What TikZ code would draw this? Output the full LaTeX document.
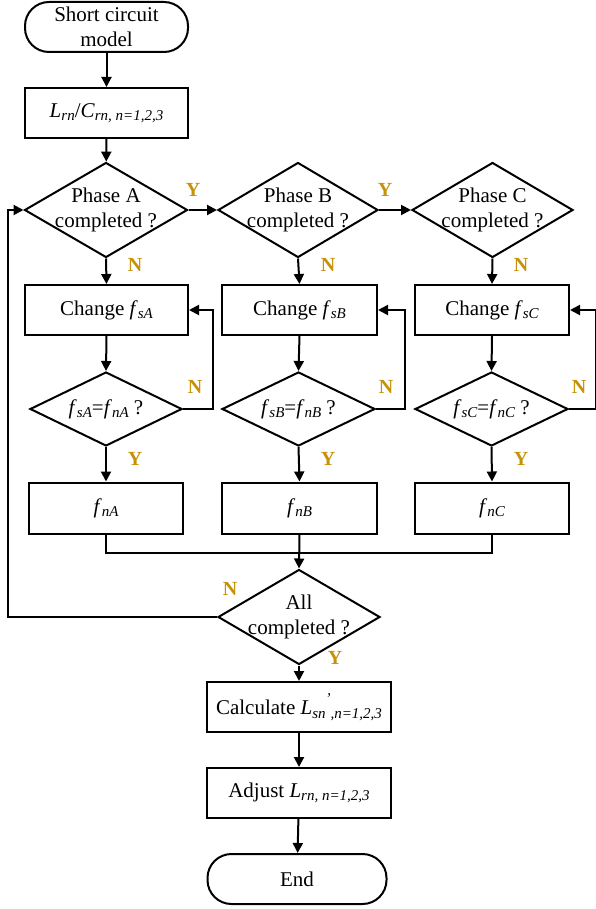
\documentclass[tikz,border=0pt]{standalone}
\usepackage{fontspec}
\setmainfont{Liberation Serif}
\usetikzlibrary{shapes.geometric,arrows.meta}
\definecolor{gold}{RGB}{198,146,10}
\newcommand{\vi}[1]{\textit{#1}}
\newcommand{\sbs}[1]{\raisebox{-0.35ex}{\fontsize{15}{15}\selectfont\itshape #1}}
\begin{document}
\begin{tikzpicture}[x=1pt,y=-1pt,line width=2pt,
  txt/.style={font=\fontsize{21}{25}\selectfont},
  proc/.style={draw,rectangle,inner sep=0pt,minimum height=50pt,txt},
  term/.style={draw,rectangle,rounded corners=24pt,inner sep=0pt,minimum height=50pt,align=center,txt},
  dec/.style={draw,diamond,inner sep=0pt,label={[txt,align=center]center:#1}},
  yn/.style={font=\fontsize{20}{20}\selectfont\bfseries,text=gold},
  arr/.style={-{Triangle[length=10pt,width=10pt]}}]
\useasboundingbox (0,0) rectangle (596,909);

\node[term,minimum width=163pt] (start) at (106.5,27) {Short circuit\\model};
\node[proc,minimum width=163pt] (lc) at (106.5,113) {\vi{L}\sbs{rn}/\vi{C}\sbs{rn, n=1,2,3}};

\node[dec={Phase A\\completed ?},minimum width=163pt,minimum height=95pt] (dA) at (106,210) {};
\node[dec={Phase B\\completed ?},minimum width=160pt,minimum height=95pt] (dB) at (298,210) {};
\node[dec={Phase C\\completed ?},minimum width=161pt,minimum height=95pt] (dC) at (492.5,210) {};

\node[proc,minimum width=163pt] (cA) at (106.5,310) {Change \vi{f}\sbs{sA}};
\node[proc,minimum width=155pt] (cB) at (299.5,310) {Change \vi{f}\sbs{sB}};
\node[proc,minimum width=154pt] (cC) at (492,310) {Change \vi{f}\sbs{sC}};

\node[dec={\vi{f}\sbs{sA}=\vi{f}\sbs{nA} ?},minimum width=152pt,minimum height=74pt] (sA) at (106,409) {};
\node[dec={\vi{f}\sbs{sB}=\vi{f}\sbs{nB} ?},minimum width=153pt,minimum height=74pt] (sB) at (298.5,409) {};
\node[dec={\vi{f}\sbs{sC}=\vi{f}\sbs{nC} ?},minimum width=153pt,minimum height=74pt] (sC) at (491.5,409) {};

\node[proc,minimum width=154pt,minimum height=51pt] (fA) at (106,508) {\vi{f}\sbs{nA}};
\node[proc,minimum width=155pt,minimum height=51pt] (fB) at (299.5,508) {\vi{f}\sbs{nB}};
\node[proc,minimum width=154pt,minimum height=51pt] (fC) at (492,508) {\vi{f}\sbs{nC}};

\node[dec={All\\completed ?},minimum width=162pt,minimum height=95pt] (all) at (299,617) {};
\node[proc,minimum width=184pt] (calc) at (299,707) {Calculate \vi{L}\sbs{sn}\raisebox{1.2ex}{\fontsize{15}{15}\selectfont\itshape '}\sbs{,n=1,2,3}};
\node[proc,minimum width=184pt] (adj) at (299,793) {Adjust \vi{L}\sbs{rn, n=1,2,3}};
\node[term,minimum width=179pt] (end) at (297,879) {End};

\coordinate (lp) at (8,617);

\draw[arr] (start) -- (lc);
\draw[arr] (lc) -- (dA);
\draw[arr] (dA.east) -- (dB.west);
\draw[arr] (dB.east) -- (dC.west);
\draw[arr] (dA.south) -- (cA.north);
\draw[arr] (dB.south) -- (cB.north);
\draw[arr] (dC.south) -- (cC.north);
\draw[arr] (cA.south) -- (sA.north);
\draw[arr] (cB.south) -- (sB.north);
\draw[arr] (cC.south) -- (sC.north);
\draw[arr] (sA.south) -- (fA.north);
\draw[arr] (sB.south) -- (fB.north);
\draw[arr] (sC.south) -- (fC.north);
\draw[arr] (sA.east) -- ++(30,0) |- (cA.east);
\draw[arr] (sB.east) -- ++(29,0) |- (cB.east);
\draw[arr] (sC.east) -- ++(27,0) |- (cC.east);
\draw (fA.south) -- ++(0,18) -| (fC.south);
\draw[arr] (fB.south) -- (all.north);
\draw[arr] (all.west) -- (lp) |- (dA.west);
\draw[arr] (all.south) -- (calc.north);
\draw[arr] (calc) -- (adj);
\draw[arr] (adj) -- (end);

\node[yn] (y1) at (193,190) {Y};
\node[yn] (y2) at (385,190) {Y};
\node[yn] (n1) at (135,265) {N};
\node[yn] (n2) at (328,265) {N};
\node[yn] (n3) at (521,265) {N};
\node[yn] (n4) at (195,387) {N};
\node[yn] (n5) at (386,387) {N};
\node[yn] (n6) at (579,387) {N};
\node[yn] (y3) at (135,459) {Y};
\node[yn] (y4) at (328,459) {Y};
\node[yn] (y5) at (521,459) {Y};
\node[yn] (n7) at (230,589) {N};
\node[yn] (y6) at (335,658) {Y};
\end{tikzpicture}
\end{document}
